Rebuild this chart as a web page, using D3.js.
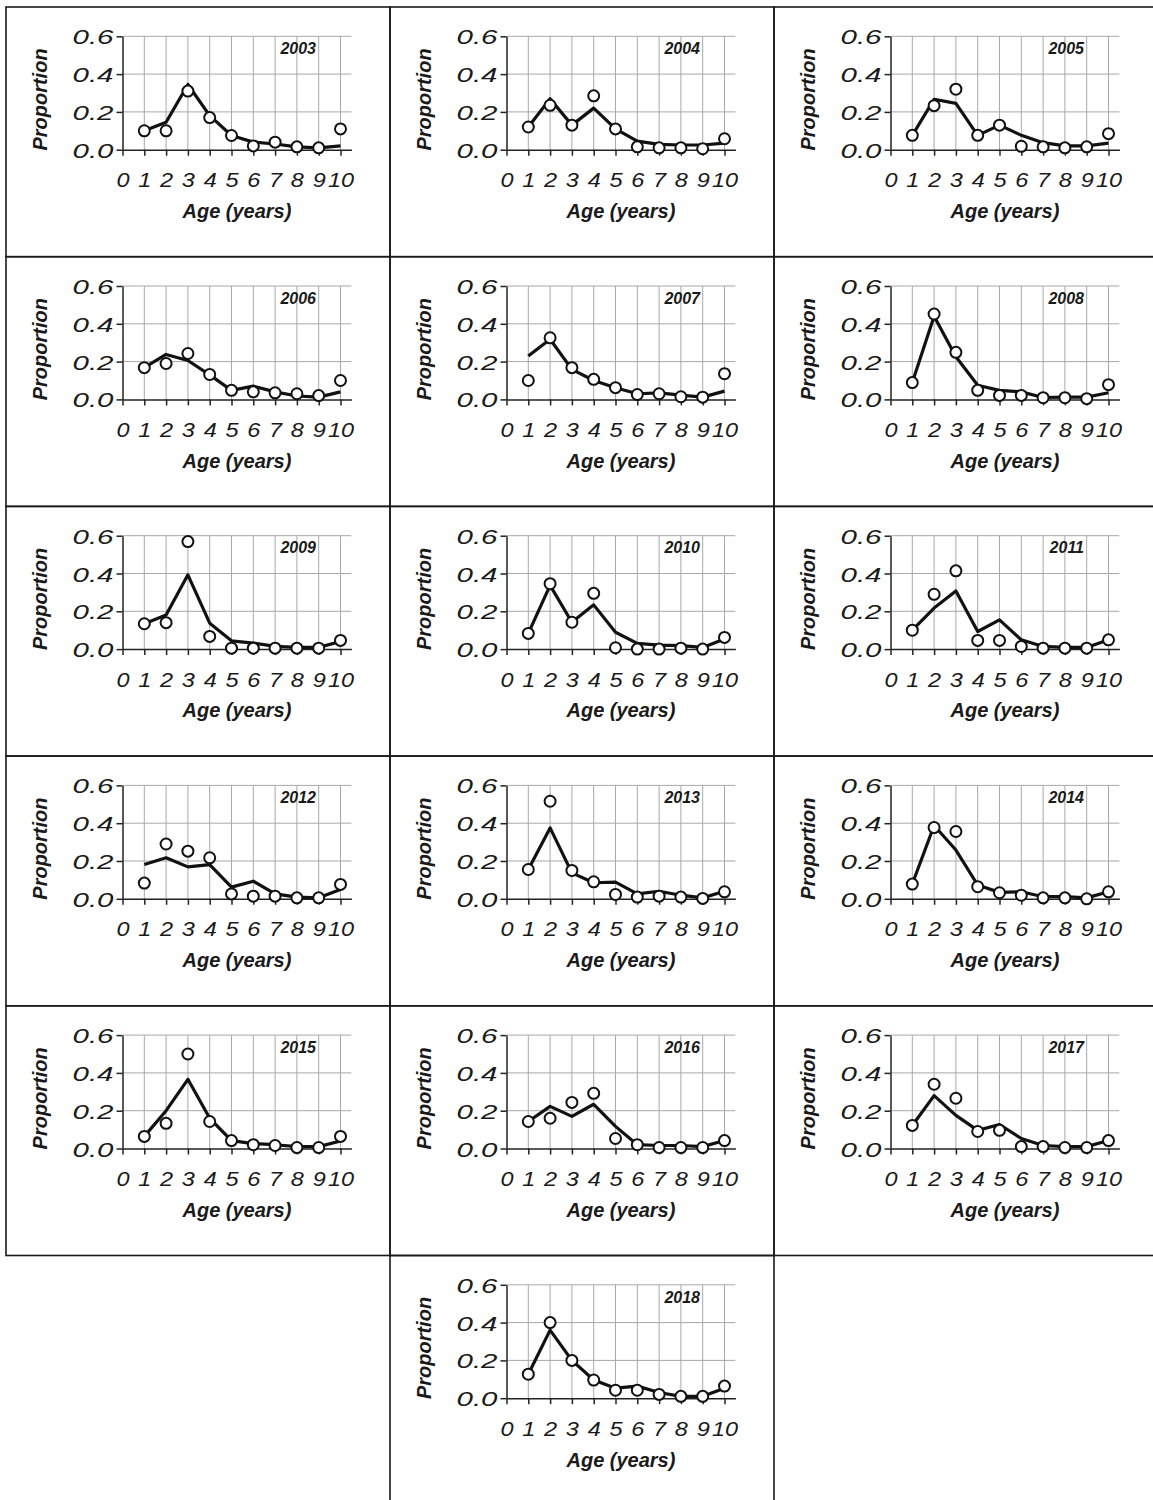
<!DOCTYPE html>
<html>
<head>
<meta charset="utf-8">
<script src="https://cdn.jsdelivr.net/npm/d3@7"></script>
<style>
  body { margin: 0; background: #fff; }
  text { font-family: "Liberation Sans", Arial, sans-serif; fill: #1a1a1a; }
</style>
</head>
<body>
<svg width="1153" height="1500"></svg>
<script>
// ---------------- data ----------------
var years = [2003, 2004, 2005, 2006, 2007, 2008, 2009, 2010,
             2011, 2012, 2013, 2014, 2015, 2016, 2017, 2018];
var ages = [1, 2, 3, 4, 5, 6, 7, 8, 9, 10];
var xTicks = [0, 1, 2, 3, 4, 5, 6, 7, 8, 9, 10];
var yTicks = [0, 0.2, 0.4, 0.6];

// observed proportions (open circles)
var observed = [
  [0.10, 0.10, 0.31, 0.17, 0.075, 0.02, 0.04, 0.015, 0.01, 0.11],
  [0.12, 0.235, 0.13, 0.285, 0.11, 0.015, 0.01, 0.01, 0.005, 0.058],
  [0.076, 0.233, 0.32, 0.076, 0.13, 0.018, 0.015, 0.01, 0.015, 0.085],
  [0.168, 0.19, 0.243, 0.132, 0.048, 0.04, 0.035, 0.03, 0.02, 0.10],
  [0.10, 0.326, 0.168, 0.106, 0.062, 0.026, 0.03, 0.014, 0.012, 0.136],
  [0.089, 0.452, 0.249, 0.048, 0.021, 0.021, 0.009, 0.009, 0.004, 0.078],
  [0.134, 0.14, 0.569, 0.067, 0.005, 0.005, 0.005, 0.005, 0.005, 0.046],
  [0.083, 0.346, 0.142, 0.295, 0.007, 0.0, 0.0, 0.005, 0.0, 0.062],
  [0.10, 0.29, 0.414, 0.046, 0.046, 0.014, 0.005, 0.005, 0.005, 0.049],
  [0.083, 0.29, 0.252, 0.217, 0.026, 0.014, 0.014, 0.005, 0.005, 0.076],
  [0.155, 0.516, 0.15, 0.09, 0.023, 0.009, 0.014, 0.009, 0.002, 0.037],
  [0.078, 0.377, 0.356, 0.064, 0.032, 0.019, 0.005, 0.005, 0.0, 0.037],
  [0.064, 0.133, 0.50, 0.143, 0.042, 0.02, 0.016, 0.005, 0.005, 0.064],
  [0.143, 0.16, 0.244, 0.292, 0.053, 0.02, 0.005, 0.005, 0.005, 0.042],
  [0.122, 0.34, 0.266, 0.09, 0.096, 0.01, 0.01, 0.005, 0.005, 0.042],
  [0.127, 0.40, 0.20, 0.096, 0.042, 0.042, 0.02, 0.01, 0.01, 0.064]
];

// predicted proportions (solid line)
var predicted = [
  [0.10, 0.145, 0.345, 0.18, 0.075, 0.04, 0.03, 0.015, 0.01, 0.02],
  [0.12, 0.27, 0.13, 0.22, 0.11, 0.045, 0.028, 0.025, 0.025, 0.035],
  [0.076, 0.267, 0.245, 0.076, 0.13, 0.076, 0.037, 0.02, 0.02, 0.035],
  [0.168, 0.238, 0.206, 0.13, 0.048, 0.07, 0.04, 0.018, 0.012, 0.04],
  [0.23, 0.318, 0.159, 0.10, 0.062, 0.03, 0.035, 0.023, 0.012, 0.044],
  [0.089, 0.44, 0.226, 0.075, 0.048, 0.04, 0.01, 0.012, 0.012, 0.035],
  [0.134, 0.18, 0.393, 0.137, 0.044, 0.032, 0.014, 0.009, 0.009, 0.04],
  [0.083, 0.337, 0.142, 0.234, 0.089, 0.03, 0.021, 0.018, 0.009, 0.053],
  [0.10, 0.217, 0.308, 0.093, 0.155, 0.049, 0.014, 0.009, 0.009, 0.049],
  [0.181, 0.217, 0.169, 0.181, 0.062, 0.093, 0.026, 0.009, 0.005, 0.049],
  [0.155, 0.375, 0.137, 0.085, 0.088, 0.026, 0.04, 0.019, 0.005, 0.04],
  [0.078, 0.388, 0.258, 0.073, 0.034, 0.037, 0.011, 0.011, 0.005, 0.037],
  [0.064, 0.20, 0.366, 0.16, 0.042, 0.026, 0.02, 0.01, 0.01, 0.04],
  [0.143, 0.223, 0.17, 0.234, 0.117, 0.02, 0.016, 0.016, 0.01, 0.042],
  [0.122, 0.28, 0.175, 0.096, 0.127, 0.053, 0.016, 0.01, 0.01, 0.042],
  [0.127, 0.36, 0.20, 0.096, 0.053, 0.064, 0.03, 0.01, 0.01, 0.053]
];

// ---------------- layout ----------------
var svg = d3.select('svg');
var colX = [6, 390, 774];
var cellW = 384;
var rowY0 = 7, rowH = 249.7;

// table cell borders
function cellPos(i){
    var row = Math.floor(i / 3), col = i % 3;
    if (i === years.length - 1 && col === 0) col = 1;   // lone last panel sits in the middle
    return { x: colX[col], y: rowY0 + row * rowH };
}

var borders = svg.append('g')
    .style('fill', 'none')
    .style('stroke', '#1a1a1a')
    .style('stroke-width', 1.6);

years.forEach((yr, i)=>{
    var p = cellPos(i);
    borders.append('rect')
        .attr('x', p.x).attr('y', p.y)
        .attr('width', cellW).attr('height', i === years.length - 1 ? 400 : rowH);
});

// ---------------- panels ----------------
years.forEach((yr, i)=>{
    var p = cellPos(i);
    var g = svg.append('g').attr('transform', 'translate(' + p.x + ',' + p.y + ')');

    var x = d3.scaleLinear().domain([0, 10.5]).range([116.5, 116.5 + 10.5 * 21.8]);
    var y = d3.scaleLinear().domain([0, 0.6]).range([142.7, 29.3]);

    // grid
    g.append('g').selectAll('line')
        .data(ages).enter().append('line')
        .attr('x1', d=>x(d)).attr('x2', d=>x(d))
        .attr('y1', y(0)).attr('y2', y(0.6))
        .style('stroke', '#a8a8a8').style('stroke-width', 1);
    g.append('g').selectAll('line')
        .data(yTicks.slice(1)).enter().append('line')
        .attr('x1', x(0)).attr('x2', x(10.5))
        .attr('y1', d=>y(d)).attr('y2', d=>y(d))
        .style('stroke', '#a8a8a8').style('stroke-width', 1);

    // axes
    var xAxis = d3.axisBottom(x).tickValues(xTicks).tickSize(6).tickSizeOuter(0)
        .tickFormat(d3.format('d'));
    var gx = g.append('g').attr('transform', 'translate(0,' + y(0) + ')').call(xAxis);
    gx.selectAll('text')
        .attr('y', 37.5).attr('dy', null)
        .attr('transform', 'scale(1.12,1)')
        .style('font-size', '21px').style('font-style', 'italic');

    var yAxis = d3.axisLeft(y).tickValues(yTicks).tickSize(6).tickSizeOuter(0)
        .tickFormat(d3.format('.1f'));
    var gy = g.append('g').attr('transform', 'translate(' + x(0) + ',0)').call(yAxis);
    gy.selectAll('text')
        .attr('x', -9).attr('dy', '0.36em')
        .attr('textLength', 41).attr('lengthAdjust', 'spacingAndGlyphs')
        .style('font-size', '21px').style('font-style', 'italic');

    [gx, gy].forEach(a=>{
        a.select('.domain').style('stroke', '#222').style('stroke-width', 1.5);
        a.selectAll('.tick line').style('stroke', '#222').style('stroke-width', 1.5);
        a.selectAll('text').style('fill', '#1a1a1a').style('font-family', '"Liberation Sans", Arial, sans-serif');
    });

    // titles
    g.append('text')
        .attr('x', (x(0) + x(10.5)) / 2).attr('y', 211)
        .attr('text-anchor', 'middle')
        .style('font-size', '20px').style('font-weight', 'bold').style('font-style', 'italic')
        .text('Age (years)');
    g.append('text')
        .attr('transform', 'translate(41,92.5) rotate(-90)')
        .attr('text-anchor', 'middle')
        .style('font-size', '20px').style('font-weight', 'bold').style('font-style', 'italic')
        .text('Proportion');
    g.append('text')
        .attr('x', 310).attr('y', 47)
        .attr('text-anchor', 'end')
        .style('font-size', '16px').style('font-weight', 'bold').style('font-style', 'italic')
        .text(yr);

    // predicted line
    var line = d3.line().x((d,k)=>x(ages[k])).y(d=>y(d));
    g.append('path')
        .datum(predicted[i])
        .attr('d', line)
        .style('fill', 'none').style('stroke', '#111')
        .style('stroke-width', 3.2).style('stroke-linejoin', 'round');

    // observed circles
    g.append('g').selectAll('circle')
        .data(observed[i]).enter().append('circle')
        .attr('cx', (d,k)=>x(ages[k]))
        .attr('cy', d=>y(d))
        .attr('r', 5.5)
        .style('fill', '#fff').style('stroke', '#111').style('stroke-width', 2);
});
</script>
</body>
</html>
